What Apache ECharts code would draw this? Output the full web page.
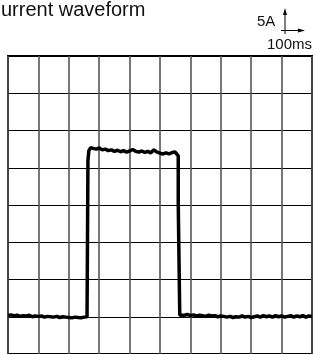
<!DOCTYPE html>
<html>
<head>
<meta charset="utf-8">
<script src="https://cdn.jsdelivr.net/npm/echarts@6/dist/echarts.min.js"></script>
<style>
html, body { margin: 0; padding: 0; background: #fff; }
#chart { width: 315px; height: 354px; }
</style>
</head>
<body>
<div id="chart"></div>
<script>
// time in ms (10 div x 100ms), current in A (5A / div, baseline at 0)
var timeMs = [
    0, 10, 20, 30, 40, 50, 60, 70, 80, 90, 100, 110, 120, 130, 140, 150, 160, 170, 180, 190, 200, 210, 220, 230, 240, 250, 260,
    263, 263, 266, 272,
    280, 290, 300, 310, 320, 330, 340, 350, 360, 370, 380, 390, 400, 410, 420, 430, 440, 450, 460, 470, 480, 490, 500, 510, 520, 530, 540, 550, 556,
    560, 560, 565, 565,
    570, 580, 590, 600, 610, 620, 630, 640, 650, 660, 670, 680, 690, 700, 710, 720, 730, 740, 750, 760, 770, 780, 790, 800,
    810, 820, 830, 840, 850, 860, 870, 880, 890, 900, 910, 920, 930, 940, 950, 960, 970, 980, 990, 1000
];
var currentA = [
    0.15, 0.25, 0.1, 0.2, 0.05, 0.15, 0.1, 0.2, 0.0, 0.1, 0.05, 0.1, -0.05, 0.05, 0.0, -0.05, 0.05, -0.1, 0.0, -0.05, -0.1, -0.15, -0.05, -0.1, -0.15, -0.05, 0.0,
    0.0, 21.0, 22.3, 22.7,
    22.6, 22.5, 22.65, 22.4, 22.5, 22.3, 22.4, 22.2, 22.35, 22.15, 22.3, 22.1, 22.25, 22.45, 22.2, 22.1, 22.25, 22.05, 22.2, 22.0, 22.4, 22.1, 21.95, 21.85, 22.0, 21.85, 22.05, 22.1, 21.9,
    21.6, 15.2, 15.0, 0.2,
    0.25, 0.2, 0.3, 0.15, 0.25, 0.1, 0.2, 0.15, 0.05, 0.2, 0.1, 0.15, 0.0, 0.1, 0.05, -0.05, 0.05, -0.1, 0.0, -0.05, 0.1, -0.05, 0.05, -0.1,
    0.0, 0.1, -0.05, 0.15, 0.0, 0.1, -0.05, 0.15, 0.0, 0.1, -0.05, 0.05, 0.15, -0.05, 0.1, 0.0, 0.15, -0.05, 0.1, 0.05
];
var titleText = 'Current waveform';
var voltsLabel = '5A';
var timeLabel = '100ms';

var points = [];
for (var i = 0; i < timeMs.length; i++) {
    points.push([timeMs[i], currentA[i]]);
}

var chart = echarts.init(document.getElementById('chart'));
var font = '"Liberation Sans", Arial, sans-serif';

chart.setOption({
    animation: false,
    backgroundColor: '#fff',
    grid: {
        left: 8, top: 56, width: 304, height: 304,
        show: true, borderColor: '#000', borderWidth: 2, backgroundColor: 'transparent'
    },
    xAxis: {
        type: 'value', min: 0, max: 1000, interval: 100,
        axisLine: { show: false }, axisTick: { show: false }, axisLabel: { show: false },
        splitLine: { show: true, lineStyle: { color: '#555', width: 1.6 } }
    },
    yAxis: {
        type: 'value', min: -5, max: 35, interval: 5,
        axisLine: { show: false }, axisTick: { show: false }, axisLabel: { show: false },
        splitLine: { show: true, lineStyle: { color: '#000', width: 1.2 } }
    },
    series: [{
        type: 'line',
        data: points,
        showSymbol: false,
        lineStyle: { color: '#000', width: 3.5 },
        z: 5
    }],
    graphic: [
        { type: 'text', x: -13.5, y: 0, style: { text: titleText, fontSize: 20, fontFamily: font, fill: '#111' } },
        { type: 'text', x: 257, y: 14, style: { text: voltsLabel, fontSize: 15, fontFamily: font, fill: '#111' } },
        { type: 'text', x: 267, y: 37, style: { text: timeLabel, fontSize: 15, fontFamily: font, fill: '#111' } },
        { type: 'line', shape: { x1: 285, y1: 12, x2: 285, y2: 34 }, style: { stroke: '#000', lineWidth: 1 } },
        { type: 'polygon', shape: { points: [[285, 8], [283, 15], [287, 15]] }, style: { fill: '#000' } },
        { type: 'line', shape: { x1: 281, y1: 30.5, x2: 301, y2: 30.5 }, style: { stroke: '#000', lineWidth: 1 } },
        { type: 'polygon', shape: { points: [[305, 30.5], [298, 28.5], [298, 32.5]] }, style: { fill: '#000' } }
    ]
});
</script>
</body>
</html>
